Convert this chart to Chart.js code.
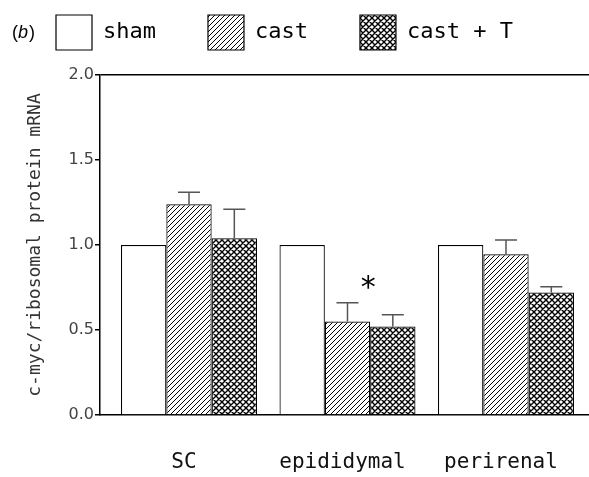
<!DOCTYPE html>
<html><head><meta charset="utf-8">
<script src="https://cdn.jsdelivr.net/npm/chart.js@4/dist/chart.umd.min.js"></script>
<style>html,body{margin:0;padding:0;background:#fff;}canvas{display:block;}</style>
</head><body>
<canvas id="c" width="589" height="477"></canvas>
<script>
const categories = ['SC', 'epididymal', 'perirenal'];
const seriesNames = ['sham', 'cast', 'cast + T'];
const shamValues = [1.0, 1.0, 1.0];
const castValues = [1.24, 0.55, 0.945];
const castTValues = [1.04, 0.52, 0.72];
const shamErrors = [0, 0, 0];
const castErrors = [0.07, 0.11, 0.085];
const castTErrors = [0.17, 0.07, 0.035];
const yTickValues = [0, 0.5, 1.0, 1.5, 2.0];
const yAxisTitle = 'c-myc/ribosomal protein mRNA';
const panelLabel = 'b';
const significance = [{category: 1, series: 1, text: '*', value: 0.78}];

const canvas = document.getElementById('c');
const mainCtx = canvas.getContext('2d');
function hatch(cross) {
  const s = cross ? 6 : 5;
  const t = document.createElement('canvas'); t.width = s; t.height = s;
  const g = t.getContext('2d');
  g.fillStyle = '#fff'; g.fillRect(0, 0, s, s);
  g.strokeStyle = '#000'; g.lineWidth = cross ? 1.4 : 1;
  g.beginPath();
  g.moveTo(0, s); g.lineTo(s, 0);
  g.moveTo(-1, 1); g.lineTo(1, -1);
  g.moveTo(s - 1, s + 1); g.lineTo(s + 1, s - 1);
  if (cross) {
    g.moveTo(0, 0); g.lineTo(s, s);
    g.moveTo(-1, s - 1); g.lineTo(1, s + 1);
    g.moveTo(s - 1, -1); g.lineTo(s + 1, 1);
  }
  g.stroke();
  return mainCtx.createPattern(t, 'repeat');
}
const toPoints = arr => arr.map((v, i) => ({x: i, y: v}));

const extras = {
  id: 'extras',
  afterDatasetsDraw(chart) {
    const ctx = chart.ctx, ys = chart.scales.y;
    chart.data.datasets.forEach((ds, di) => {
      const meta = chart.getDatasetMeta(di);
      meta.data.forEach((bar, i) => {
        const e = ds.errors[i];
        if (!e) return;
        const v = ds.data[i].y;
        const y0 = ys.getPixelForValue(v), y1 = ys.getPixelForValue(v + e);
        ctx.save();
        ctx.strokeStyle = '#555'; ctx.lineWidth = 1.5;
        ctx.beginPath();
        ctx.moveTo(bar.x, y0); ctx.lineTo(bar.x, y1);
        ctx.moveTo(bar.x - 11, y1); ctx.lineTo(bar.x + 11, y1);
        ctx.stroke();
        ctx.restore();
      });
    });
    significance.forEach(s => {
      const bar = chart.getDatasetMeta(s.series).data[s.category];
      ctx.save();
      ctx.fillStyle = '#000';
      ctx.font = '30px "DejaVu Sans"';
      ctx.textAlign = 'center'; ctx.textBaseline = 'middle';
      ctx.fillText(s.text, bar.x + bar.width / 2 - 2, ys.getPixelForValue(s.value) + 7);
      ctx.restore();
    });
  },
  afterDraw(chart) {
    const ctx = chart.ctx;
    ctx.save();
    ctx.fillStyle = '#000'; ctx.textBaseline = 'middle';
    ctx.font = '18px "Liberation Sans"';
    let x = 12;
    ctx.fillText('(', x, 33); x += ctx.measureText('(').width;
    ctx.font = 'italic 18px "Liberation Sans"';
    ctx.fillText(panelLabel, x, 33); x += ctx.measureText(panelLabel).width + 1;
    ctx.font = '18px "Liberation Sans"';
    ctx.fillText(')', x, 33);
    ctx.restore();
  }
};

new Chart(mainCtx, {
  type: 'bar',
  data: {
    datasets: [
      {label: seriesNames[0], data: toPoints(shamValues), errors: shamErrors, backgroundColor: '#fff', borderColor: '#000', borderWidth: 1.2},
      {label: seriesNames[1], data: toPoints(castValues), errors: castErrors, backgroundColor: hatch(false), borderColor: '#000', borderWidth: 1.2},
      {label: seriesNames[2], data: toPoints(castTValues), errors: castTErrors, backgroundColor: hatch(true), borderColor: '#000', borderWidth: 1.2}
    ]
  },
  options: {
    responsive: false,
    animation: false,
    devicePixelRatio: 1,
    categoryPercentage: 0.858,
    barPercentage: 1.0,
    layout: {padding: {top: -37, left: 4, right: 0, bottom: 0}},
    plugins: {
      tooltip: {enabled: false},
      title: {display: true, text: '', weight: 500, padding: 0, font: {size: 12.5, lineHeight: 1.2}},
      legend: {
        position: 'top', align: 'start',
        labels: {boxWidth: 36, boxHeight: 35, padding: 52, color: '#000',
                 font: {family: '"DejaVu Sans Mono"', size: 22}}
      }
    },
    scales: {
      x: {
        type: 'linear', offset: false, min: -0.5615, max: 2.5237,
        afterBuildTicks: s => { s.ticks = categories.map((_, i) => ({value: i})); },
        afterFit: s => { s.height = 62; s.paddingLeft = 0; s.paddingRight = 0; },
        ticks: {padding: 35, labelOffset: -5, color: '#111', font: {family: '"DejaVu Sans Mono"', size: 21},
                callback: v => categories[v], maxRotation: 0, autoSkip: false},
        grid: {display: false, drawTicks: false},
        border: {display: true, color: '#000', width: 1.5}
      },
      y: {
        min: 0, max: 2,
        afterBuildTicks: s => { s.ticks = yTickValues.map(v => ({value: v})); },
        afterFit: s => { s.width = 96; },
        ticks: {padding: 1, color: '#444', font: {family: '"DejaVu Sans"', size: 16},
                callback: v => Number(v).toFixed(1)},
        grid: {drawOnChartArea: true, drawTicks: true, tickLength: 5, tickColor: '#000', lineWidth: 1.5,
               color: c => (c.tick && c.tick.value === 2) ? '#000' : 'rgba(0,0,0,0)'},
        border: {display: true, color: '#000', width: 1.5},
        title: {display: true, text: yAxisTitle, color: '#333',
                font: {family: '"DejaVu Sans Mono"', size: 18}, padding: {top: 21, bottom: 0}}
      }
    }
  },
  plugins: [extras]
});
</script>
</body></html>
